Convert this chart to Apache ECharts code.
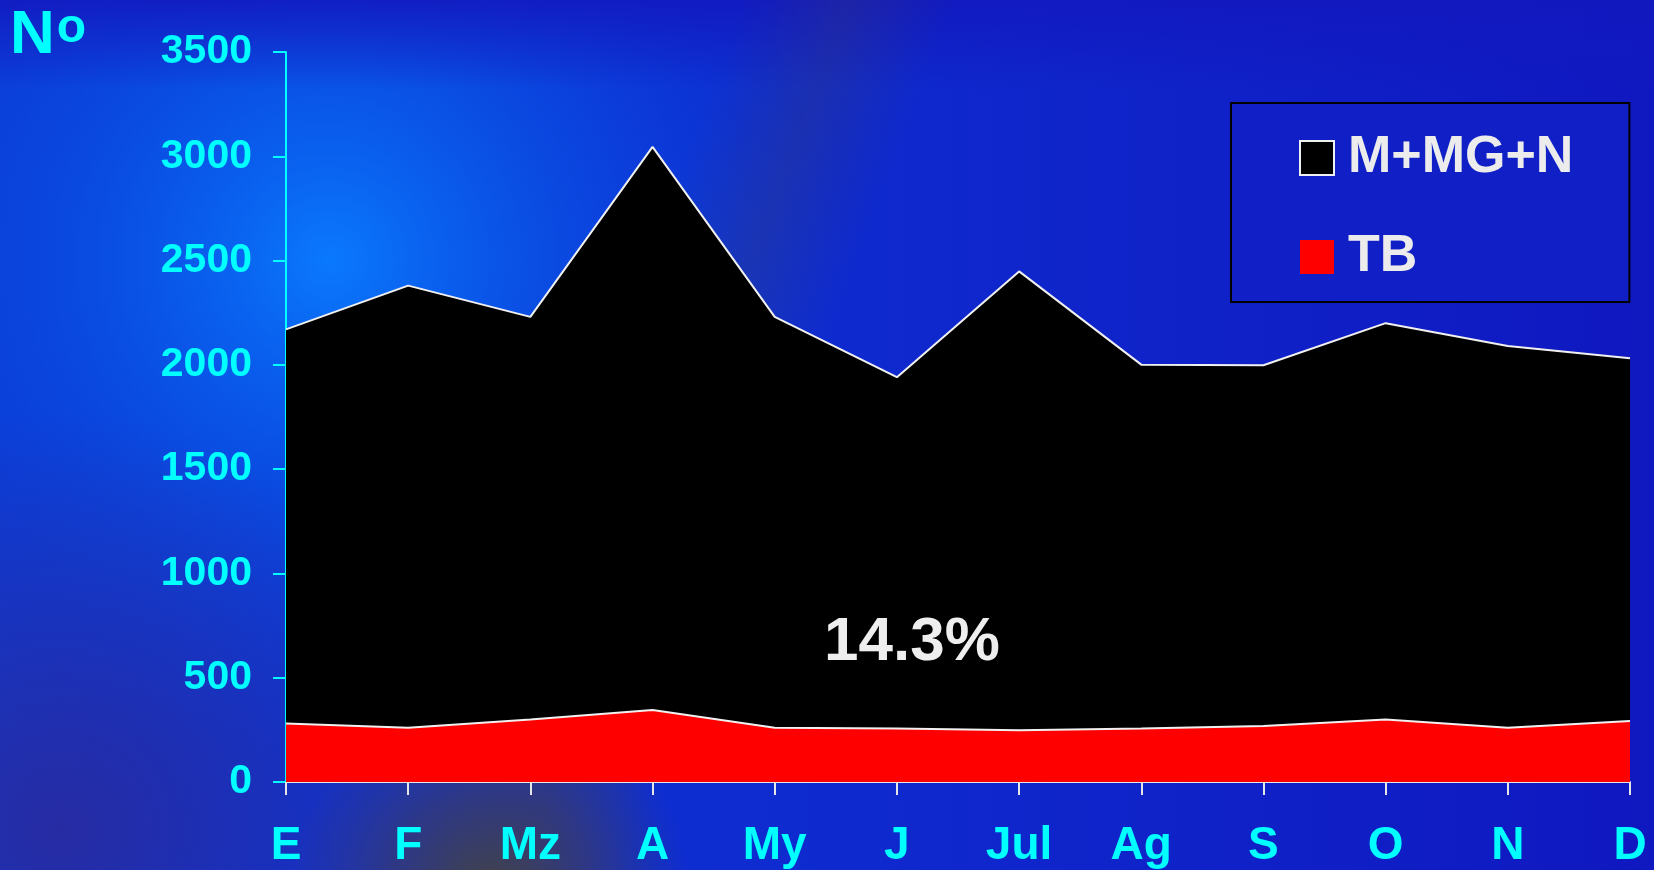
<!DOCTYPE html>
<html>
<head>
<meta charset="utf-8">
<script src="https://cdn.jsdelivr.net/npm/echarts@6/dist/echarts.min.js"></script>
<style>
  html, body { margin: 0; padding: 0; background: #1020c4; }
  #chart { width: 1654px; height: 870px; }
</style>
</head>
<body>
<div id="chart"></div>
<script>
// Monthly case counts (stacked): TB at the bottom, M+MG+N on top
const months = ['E', 'F', 'Mz', 'A', 'My', 'J', 'Jul', 'Ag', 'S', 'O', 'N', 'D'];
const tb = [280, 260, 300, 345, 260, 256, 248, 256, 268, 300, 260, 292];
const mmgn = [1890, 2120, 1930, 2700, 1970, 1685, 2200, 1745, 1730, 1900, 1830, 1740];
const seriesNames = ['M+MG+N', 'TB'];
const shareLabel = '14.3%';

const FONT = "'Liberation Sans', Arial, sans-serif";
const CYAN = '#00ffff';

const chart = echarts.init(document.getElementById('chart'), null, { renderer: 'canvas' });

chart.setOption({
  animation: false,
  backgroundColor: '#1020c4',
  title: {
    text: '{n|N}{o|o}',
    left: 5,
    top: 0,
    textStyle: {
      rich: {
        n: { fontSize: 62, fontWeight: 'bold', color: CYAN, fontFamily: FONT },
        o: { fontSize: 48, fontWeight: 'bold', color: CYAN, fontFamily: FONT, verticalAlign: 'top', padding: [0, 0, 0, 2] }
      }
    }
  },
  graphic: [
    // backdrop: blue wash
    {
      type: 'rect', z: -10, silent: true,
      shape: { x: 0, y: 0, width: 1654, height: 870 },
      style: {
        fill: new echarts.graphic.LinearGradient(0, 0, 1, 0, [
          { offset: 0, color: '#0c3ad6' },
          { offset: 0.45, color: '#0e2cd0' },
          { offset: 1, color: '#1018c0' }
        ])
      }
    },
    // bright glow upper left
    {
      type: 'circle', z: -9, silent: true,
      shape: { cx: 330, cy: 260, r: 520 },
      style: {
        fill: new echarts.graphic.RadialGradient(0.5, 0.5, 0.5, [
          { offset: 0, color: 'rgba(10,125,255,0.95)' },
          { offset: 0.45, color: 'rgba(8,90,235,0.6)' },
          { offset: 1, color: 'rgba(8,60,220,0)' }
        ])
      }
    },
    // darker band along the top
    {
      type: 'rect', z: -8, silent: true,
      shape: { x: 0, y: 0, width: 1654, height: 90 },
      style: {
        fill: new echarts.graphic.LinearGradient(0, 0, 0, 1, [
          { offset: 0, color: 'rgba(18,24,190,0.85)' },
          { offset: 1, color: 'rgba(18,24,190,0)' }
        ])
      }
    },
    // purple shade lower left
    {
      type: 'circle', z: -8, silent: true,
      shape: { cx: 60, cy: 830, r: 420 },
      style: {
        fill: new echarts.graphic.RadialGradient(0.5, 0.5, 0.5, [
          { offset: 0, color: 'rgba(45,40,150,0.8)' },
          { offset: 1, color: 'rgba(45,40,150,0)' }
        ])
      }
    },
    // diagonal streak
    {
      type: 'rect', z: -7, silent: true,
      x: 680, y: 451, rotation: -0.36,
      shape: { x: -100, y: -560, width: 200, height: 1120 },
      style: {
        fill: new echarts.graphic.LinearGradient(0, 0, 1, 0, [
          { offset: 0, color: 'rgba(60,60,100,0)' },
          { offset: 0.5, color: 'rgba(60,60,100,0.28)' },
          { offset: 1, color: 'rgba(60,60,100,0)' }
        ])
      }
    },
    // grey patch at the foot of the streak
    {
      type: 'circle', z: -6, silent: true,
      shape: { cx: 490, cy: 890, r: 200 },
      style: {
        fill: new echarts.graphic.RadialGradient(0.5, 0.5, 0.5, [
          { offset: 0, color: 'rgba(68,68,64,0.95)' },
          { offset: 0.5, color: 'rgba(64,60,90,0.6)' },
          { offset: 1, color: 'rgba(60,60,110,0)' }
        ])
      }
    },
    // share annotation
    {
      type: 'text', z: 100, silent: true,
      x: 912, y: 643,
      style: {
        text: shareLabel,
        fill: '#eeeeee',
        font: 'bold 62px ' + FONT,
        align: 'center',
        verticalAlign: 'middle'
      }
    }
  ],
  legend: {
    orient: 'vertical',
    left: 1231,
    top: 103,
    padding: [29, 56, 19, 68],
    itemWidth: 34,
    itemHeight: 34,
    itemGap: 47,
    icon: 'rect',
    backgroundColor: '#1020c6',
    borderColor: '#000000',
    borderWidth: 2,
    textStyle: { color: '#ececec', fontSize: 52, fontWeight: 'bold', fontFamily: FONT, padding: [0, 0, 0, 9] },
    data: [
      { name: seriesNames[0], itemStyle: { color: '#000000', borderColor: '#f0f0f0', borderWidth: 2 } },
      { name: seriesNames[1], itemStyle: { color: '#ff0000', borderWidth: 0 } }
    ]
  },
  grid: { left: 286, right: 24, top: 52, bottom: 88, containLabel: false },
  xAxis: {
    type: 'category',
    data: months,
    boundaryGap: false,
    axisLine: { lineStyle: { color: '#e6e6e6', width: 2 } },
    axisTick: { show: true, alignWithLabel: true, length: 13, lineStyle: { color: '#e6e6e6', width: 2 } },
    axisLabel: { interval: 0, color: CYAN, fontSize: 46, fontWeight: 'bold', fontFamily: FONT, margin: 41 },
    splitLine: { show: false }
  },
  yAxis: {
    type: 'value',
    min: 0,
    max: 3500,
    interval: 500,
    axisLine: { show: true, lineStyle: { color: CYAN, width: 2 } },
    axisTick: { show: true, length: 13, lineStyle: { color: CYAN, width: 2 } },
    axisLabel: { color: CYAN, fontSize: 41, fontWeight: 'bold', fontFamily: FONT, margin: 34, formatter: v => String(v) },
    splitLine: { show: false }
  },
  series: [
    {
      name: seriesNames[1],
      type: 'line',
      stack: 'total',
      data: tb,
      symbol: 'none',
      lineStyle: { color: '#f0f0f0', width: 2 },
      itemStyle: { color: '#ff0000' },
      areaStyle: { color: '#ff0000', opacity: 1 },
      z: 3
    },
    {
      name: seriesNames[0],
      type: 'line',
      stack: 'total',
      data: mmgn,
      symbol: 'none',
      lineStyle: { color: '#f0f0f0', width: 2 },
      itemStyle: { color: '#000000' },
      areaStyle: { color: '#000000', opacity: 1 },
      z: 2
    }
  ]
});
</script>
</body>
</html>
